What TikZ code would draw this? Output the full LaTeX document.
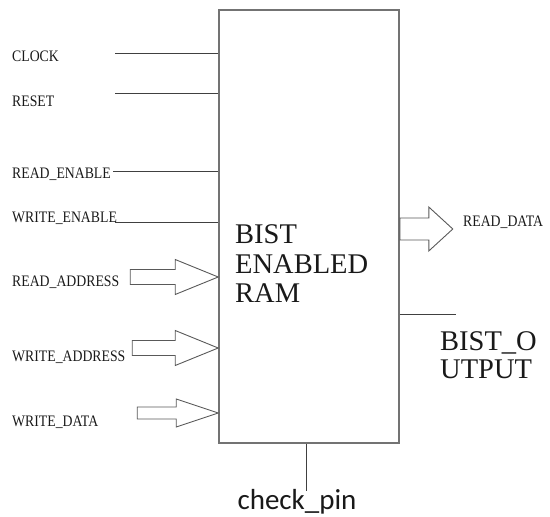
\documentclass[tikz,border=0pt]{standalone}
\usepackage{fontspec}
\setmainfont{Liberation Serif}
\newfontfamily\sigfont[FakeStretch=0.86]{Liberation Serif}
\newfontfamily\pinfont{Carlito}
\usetikzlibrary{positioning,calc}

\tikzset{
  sig/.style={anchor=base west,inner sep=0pt,text=black!90,font=\sigfont\fontsize{16}{16}\selectfont},
  wire/.style={draw=black!75,line width=0.9pt},
  bus/.style={draw=black!65,line width=0.9pt,fill=white},
  block/.style={draw=black!55,line width=1.6pt,inner sep=0pt},
  big/.style={inner sep=0pt,text=black!90,font=\fontsize{28.5}{30}\selectfont,align=left}
}

\begin{document}
\begin{tikzpicture}[x=1pt,y=-1pt]
\useasboundingbox (0,0) rectangle (550,517);

% Main block
\node[block,minimum width=180pt,minimum height=433pt] (ram) at (309,226.5) {};
\node[big,anchor=base west] (title) at (235,243) {BIST};
\node[big,anchor=base west] (title2) at (235,273) {ENABLED};
\node[big,anchor=base west] (title3) at (235,302) {RAM};

% Single-bit inputs
\coordinate (clk) at (115,53);
\coordinate (rst) at (115,93);
\coordinate (ren) at (113,171);
\coordinate (wen) at (115,222);
\node[sig] (clklbl) at (12,61) {CLOCK};
\node[sig] (rstlbl) at (12,106) {RESET};
\node[sig] (renlbl) at (12,178) {READ\_ENABLE};
\node[sig] (wenlbl) at (12,222) {WRITE\_ENABLE};
\draw[wire] (clk) -- (clk -| ram.west);
\draw[wire] (rst) -- (rst -| ram.west);
\draw[wire] (ren) -- (ren -| ram.west);
\draw[wire] (wen) -- (wen -| ram.west);

% Bus inputs
\coordinate (ra) at (ram.west |- 0,277);
\coordinate (wa) at (ram.west |- 0,348);
\coordinate (wd) at (ram.west |- 0,413);
\node[sig] (ralbl) at (12,286) {READ\_ADDRESS};
\node[sig] (walbl) at (12,361) {WRITE\_ADDRESS};
\node[sig] (wdlbl) at (12,426) {WRITE\_DATA};
\draw[bus] (ra) -- ++(-43,-17.5) -- ++(0,10) -- ++(-45,0) -- ++(0,15) -- ++(45,0) -- ++(0,10) -- cycle;
\draw[bus] (wa) -- ++(-43,-17.5) -- ++(0,10) -- ++(-43,0) -- ++(0,15) -- ++(43,0) -- ++(0,10) -- cycle;
\draw[bus] (wd) -- ++(-42,-14) -- ++(0,8) -- ++(-39,0) -- ++(0,12) -- ++(39,0) -- ++(0,8) -- cycle;

% Outputs
\coordinate (rd) at (ram.east |- 0,229);
\node[sig] (rdlbl) at (463,226) {READ\_DATA};
\draw[bus] (rd) ++(0,-11) -- ++(29,0) -- ++(0,-11) -- ++(24,22) -- ++(-24,22) -- ++(0,-11) -- ++(-29,0) -- cycle;

\coordinate (bo) at (456,314);
\node[big,anchor=base west] (bolbl) at (440,350) {BIST\_O};
\node[big,anchor=base west] (bolbl2) at (440,378) {UTPUT};
\draw[wire] (bo -| ram.east) -- (bo);

% Check pin
\coordinate (cp) at (306,491);
\node[anchor=base,inner sep=0pt,text=black!90,font=\pinfont\fontsize{29}{31}\selectfont] (cplbl) at (297,509) {check\_pin};
\draw[wire] (cp |- ram.south) -- (cp);
\end{tikzpicture}
\end{document}
